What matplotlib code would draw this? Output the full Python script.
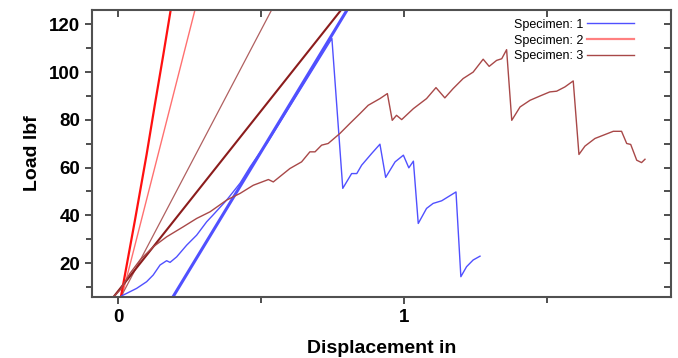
import matplotlib.pyplot as plt
from matplotlib.ticker import MultipleLocator

plt.rcParams['font.family'] = ['Liberation Sans', 'DejaVu Sans']

# Specimen 1 (blue) - test curve
s1_x = [0.013, 0.030, 0.065, 0.100, 0.123, 0.147, 0.170, 0.182, 0.205, 0.240,
        0.275, 0.310, 0.332, 0.380, 0.427, 0.462, 0.497, 0.521, 0.748, 0.786,
        0.817, 0.835, 0.852, 0.887, 0.916, 0.936, 0.969, 0.998, 1.017, 1.033,
        1.050, 1.079, 1.102, 1.132, 1.182, 1.199, 1.219, 1.242, 1.266]
s1_y = [6.3, 7.3, 9.4, 12.2, 15.0, 19.2, 21.0, 20.3, 22.6, 27.5,
        31.7, 37.3, 40.1, 46.4, 53.5, 60.3, 66.4, 70.2, 114.1, 51.3,
        57.5, 57.5, 61.0, 65.9, 69.8, 55.9, 62.4, 65.2, 59.9, 62.7,
        36.6, 42.9, 45.0, 46.1, 49.8, 14.3, 18.5, 21.3, 22.9]

# Specimen 2 (red) - test curve
s2_x = [0.010, 0.060, 0.100, 0.129, 0.158, 0.184]
s2_y = [5.8, 38.5, 65.5, 86.5, 107.0, 125.9]

# Specimen 3 (brown) - test curve
s3_x = [-0.016, 0.007, 0.042, 0.077, 0.123, 0.170, 0.228, 0.275, 0.322, 0.380,
        0.427, 0.473, 0.526, 0.543, 0.601, 0.642, 0.671, 0.689, 0.712, 0.735,
        0.776, 0.811, 0.846, 0.875, 0.916, 0.942, 0.959, 0.974, 0.992, 1.033,
        1.079, 1.112, 1.143, 1.172, 1.207, 1.242, 1.277, 1.298, 1.324, 1.342,
        1.359, 1.377, 1.406, 1.441, 1.476, 1.510, 1.534, 1.563, 1.592, 1.612,
        1.633, 1.668, 1.732, 1.761, 1.779, 1.793, 1.814, 1.831, 1.843]
s3_y = [5.8, 8.7, 15.7, 21.3, 26.8, 31.0, 35.2, 38.7, 41.5, 46.4,
        49.2, 52.6, 55.0, 54.0, 59.6, 62.4, 66.6, 66.6, 69.4, 70.1,
        74.3, 78.5, 82.6, 86.1, 88.9, 91.0, 79.8, 81.9, 80.1, 84.7,
        88.9, 93.5, 89.2, 93.1, 97.3, 100.0, 105.4, 102.4, 104.9, 105.6,
        109.4, 79.8, 85.4, 88.2, 90.0, 91.7, 92.0, 93.8, 96.3, 65.5,
        69.0, 72.2, 75.2, 75.2, 70.1, 69.7, 63.1, 62.1, 63.5]

# straight fit lines (end points)
fit1_x, fit1_y = [0.192, 0.801], [5.8, 126.0]
fit2_x, fit2_y = [0.013, 0.269], [5.8, 126.0]
fit3a_x, fit3a_y = [0.010, 0.537], [5.8, 126.0]
fit3b_x, fit3b_y = [-0.016, 0.780], [5.8, 126.0]

fig = plt.figure(figsize=(6.78, 3.58), dpi=100)
ax = fig.add_axes([0.1357, 0.1704, 0.854, 0.8016])

ax.plot(fit1_x, fit1_y, color='#5050ff', lw=2.2)
ax.plot(fit2_x, fit2_y, color='#ff7070', lw=1.0)
ax.plot(fit3a_x, fit3a_y, color='#b06060', lw=0.9)
ax.plot(fit3b_x, fit3b_y, color='#8b1c1c', lw=1.5)
ax.plot(s2_x, s2_y, color='#ff1010', lw=1.6)
ax.plot(s1_x, s1_y, color='#5050ff', lw=1.0, label='Specimen: 1')
ax.plot([], [], color='#ff8080', lw=1.6, label='Specimen: 2')
ax.plot(s3_x, s3_y, color='#a84848', lw=1.0, label='Specimen: 3')

ax.set_xlim(-0.091, 1.934)
ax.set_ylim(5.8, 126)

ax.xaxis.set_major_locator(MultipleLocator(1))
ax.xaxis.set_minor_locator(MultipleLocator(0.5))
ax.yaxis.set_major_locator(MultipleLocator(20))
ax.yaxis.set_minor_locator(MultipleLocator(10))
ax.set_yticks([20, 40, 60, 80, 100, 120])

for sp in ax.spines.values():
    sp.set_color('#505050')
    sp.set_linewidth(1.5)

ax.tick_params(which='both', direction='out', color='#303030', width=1.2,
               labelsize=13.5)
ax.tick_params(which='major', length=5)
ax.tick_params(which='minor', length=4)
for lab in ax.get_xticklabels() + ax.get_yticklabels():
    lab.set_fontweight('bold')

# inward ticks on top and right
top = ax.secondary_xaxis('top')
top.xaxis.set_major_locator(MultipleLocator(0.5))
top.tick_params(direction='in', length=5, width=1.2, color='#303030',
                labeltop=False)
top.spines['top'].set_visible(False)
right = ax.secondary_yaxis('right')
right.yaxis.set_major_locator(MultipleLocator(10))
right.tick_params(direction='in', length=5, width=1.2, color='#303030',
                  labelright=False)
right.spines['right'].set_visible(False)

ax.set_xlabel('Displacement in', fontsize=14, fontweight='bold', labelpad=10)
ax.set_ylabel('Load lbf', fontsize=14, fontweight='bold', labelpad=6)

ax.legend(loc='upper right', frameon=False, markerfirst=False, fontsize=9,
          handlelength=3.8, handletextpad=0.3, labelspacing=0.3,
          borderaxespad=0.3, bbox_to_anchor=(0.952, 1.0))

fig.savefig('out.png', dpi=100)
